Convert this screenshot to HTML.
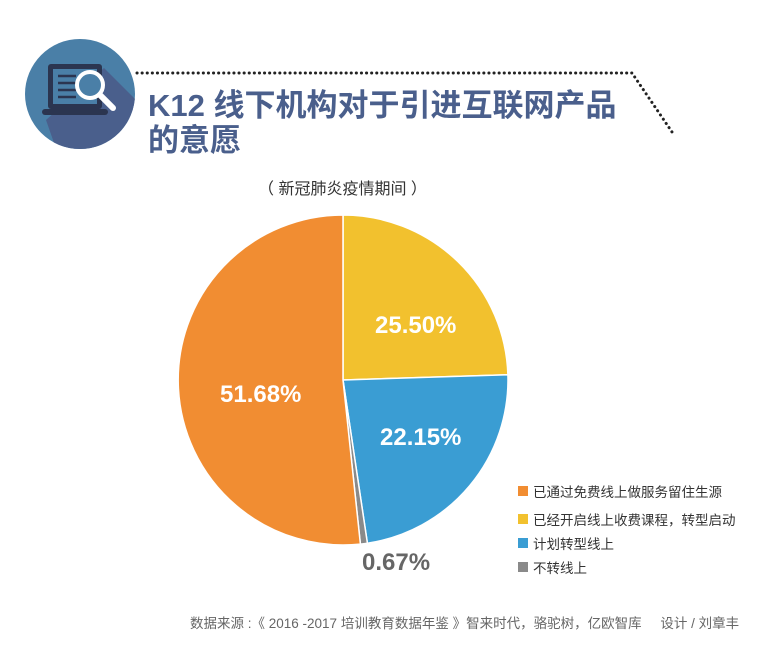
<!DOCTYPE html>
<html><head><meta charset="utf-8"><style>
body{margin:0;width:763px;height:651px;background:#fff;overflow:hidden;position:relative;font-family:"Liberation Sans","Noto Sans CJK SC",sans-serif}
.t{position:absolute;white-space:nowrap}
</style></head><body>
<svg width="763" height="651" style="position:absolute;left:0;top:0">
<defs><clipPath id="c"><circle cx="80" cy="94" r="55"/></clipPath></defs>
<circle cx="80" cy="94" r="55" fill="#4a7fa7"/>
<polygon points="104,68 150,114 150,160 60,160 46,120" fill="#4a5f8c" clip-path="url(#c)"/>
<rect x="48" y="64" width="54" height="45" rx="3" fill="#2b3550"/>
<rect x="53" y="69" width="44" height="35" fill="#4a7fa7"/>
<g stroke="#2b3550" stroke-width="2.5"><line x1="58" y1="76" x2="76" y2="76"/><line x1="58" y1="83" x2="76" y2="83"/><line x1="58" y1="90" x2="76" y2="90"/><line x1="58" y1="97" x2="76" y2="97"/></g>
<rect x="42" y="109" width="66" height="6" rx="3" fill="#2b3550"/>
<circle cx="90" cy="85" r="13" fill="#4a7fa7" stroke="#fff" stroke-width="4"/>
<line x1="100" y1="95" x2="113" y2="108" stroke="#fff" stroke-width="6" stroke-linecap="round"/>
<path d="M137 73 L632 73 L672 132" fill="none" stroke="#222" stroke-width="3" stroke-dasharray="0.1 5" stroke-linecap="round"/>
<g stroke="#fff" stroke-width="1.5">
<path d="M343 380 L343 215 A165 165 0 0 1 507.9 374.8 Z" fill="#f2c12e"/>
<path d="M343 380 L507.9 374.8 A165 165 0 0 1 367.4 543.2 Z" fill="#3a9dd3"/>
<path d="M343 380 L367.4 543.2 A165 165 0 0 1 360.4 544.1 Z" fill="#8a8a8a"/>
<path d="M343 380 L360.4 544.1 A165 165 0 1 1 343 215 Z" fill="#f18d32"/>
</g>
<rect x="518" y="486" width="10" height="10" fill="#f18d32"/>
<rect x="518" y="514" width="10" height="10" fill="#f2c12e"/>
<rect x="518" y="538" width="10" height="10" fill="#3a9dd3"/>
<rect x="518" y="562" width="10" height="10" fill="#8a8a8a"/>
</svg>
<div class="t" style="left:148px;top:80px;font-size:31px;font-weight:bold;color:#4a5f8c">K12 线下机构对于引进互联网产品</div>
<div class="t" style="left:148px;top:115px;font-size:31px;font-weight:bold;color:#4a5f8c">的意愿</div>
<div class="t" style="left:258px;top:175px;font-size:16px;color:#333">（ 新冠肺炎疫情期间 ）</div>
<div class="t" style="left:375px;top:312px;font-size:24px;font-weight:bold;color:#fff">25.50%</div>
<div class="t" style="left:380px;top:424px;font-size:24px;font-weight:bold;color:#fff">22.15%</div>
<div class="t" style="left:220px;top:381px;font-size:24px;font-weight:bold;color:#fff">51.68%</div>
<div class="t" style="left:362px;top:549px;font-size:24px;font-weight:bold;color:#666">0.67%</div>
<div class="t" style="left:533px;top:481px;font-size:13.5px;color:#333">已通过免费线上做服务留住生源</div>
<div class="t" style="left:533px;top:509px;font-size:13.5px;color:#333">已经开启线上收费课程，转型启动</div>
<div class="t" style="left:533px;top:533px;font-size:13.5px;color:#333">计划转型线上</div>
<div class="t" style="left:533px;top:557px;font-size:13.5px;color:#333">不转线上</div>
<div class="t" style="left:190px;top:612px;font-size:13.5px;color:#666">数据来源 :《 2016 -2017 培训教育数据年鉴 》智来时代，骆驼树，亿欧智库&nbsp;&nbsp;&nbsp;&nbsp;&nbsp;设计 / 刘章丰</div>
</body></html>
